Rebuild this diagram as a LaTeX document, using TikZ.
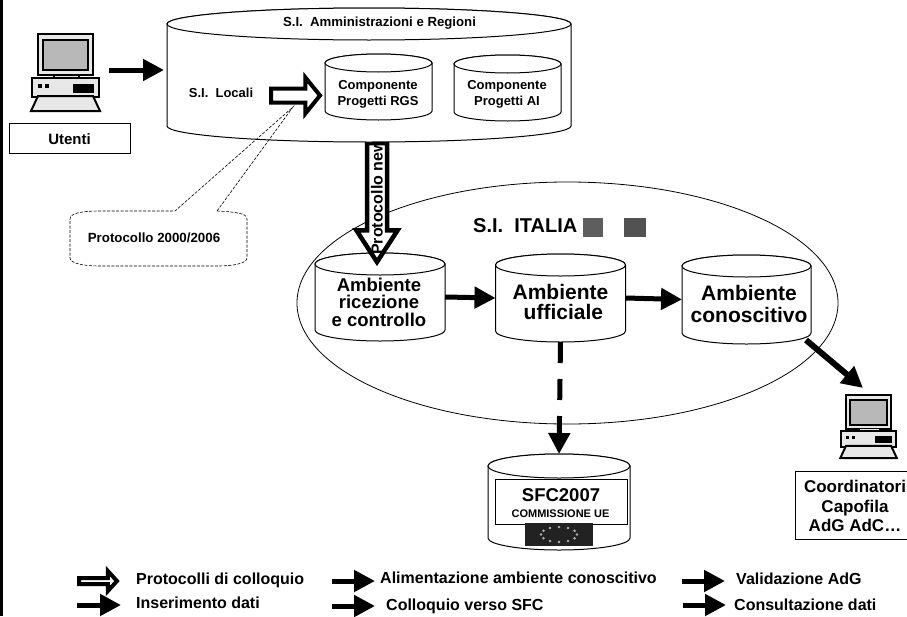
\documentclass[tikz,border=0pt]{standalone}
\usepackage{fontspec}
\setmainfont{Liberation Sans}
\usetikzlibrary{arrows.meta,calc,shapes.geometric,shapes.arrows}
\definecolor{pcbody}{HTML}{E8E8E8}
\definecolor{pcscreen}{HTML}{B8B8B8}
\definecolor{flagdark}{HTML}{222222}
\tikzset{
  tag/.style 2 args={font=\fontsize{#1}{#2}\selectfont\bfseries,inner sep=0pt,align=center},
  cylbody/.style={draw,fill=white,line width=1pt},
  solidarrow/.style={line width=5pt,-{Triangle[length=21pt,width=21pt]}},
  hollowarrow/.style n args={5}{single arrow,draw,fill=white,line width=#3,inner xsep=0pt,inner ysep=#2/2,outer sep=0pt,
    minimum height=#1,single arrow head extend=#4,single arrow tip angle=#5},
  textbox/.style={draw,fill=white,line width=.8pt,inner sep=0pt,outer sep=0pt},
  pics/computer/.style={code={
    \draw[line width=2pt,fill=pcbody] (0,0) rectangle (55,41);
    \draw[line width=2pt,fill=pcscreen] (5,6) rectangle (50,36);
    \draw[line width=1.5pt,fill=pcbody] (16,41) rectangle (41,44);
    \draw[line width=2pt,fill=pcbody] (-6,44) rectangle (61,63);
    \fill (35,50) rectangle (56,59);
    \fill (0,50) rectangle (4,54);
    \fill (7,50) rectangle (11,54);
    \draw[line width=2pt,fill=pcbody,line join=miter] (0,62) -- (-7,77) -- (62,77) -- (55,62) -- cycle;
  }}
}
% name, centre x, centre y, width, height, end radius
\newcommand{\dbcyl}[6]{
  \node[minimum width=#4,minimum height=#5,inner sep=0pt,outer sep=0pt] (#1) at (#2,#3) {};
  \draw[cylbody] ($(#1.north west)+(0,#6)$) -- ($(#1.south west)-(0,#6)$)
    arc[start angle=180,end angle=0,x radius=#4/2,y radius=#6]
    -- ($(#1.north east)+(0,#6)$)
    arc[start angle=0,end angle=-180,x radius=#4/2,y radius=#6] -- cycle;
  \draw[cylbody] ($(#1.north)+(0,#6)$) ellipse[x radius=#4/2,y radius=#6];
}
\begin{document}
\begin{tikzpicture}[x=1pt,y=-1pt]
\useasboundingbox (0,0) rectangle (907,616);
\fill (0,0) rectangle (3,616);
\node[draw,ellipse,line width=.8pt,minimum width=541,minimum height=242,inner sep=0pt,outer sep=0pt] (italia) at (567.5,303) {};
\dbcyl{ricezione}{380}{297}{130}{88}{11}
\node[tag={18.5}{17.5}] (ricezionelabel) at (379,302) {Ambiente\\ricezione\\e controllo};
\node[hollowarrow={119}{15.5}{4.5pt}{10.5}{66},rotate=-90,anchor=tip] (protonew) at (377,262) {};
\node[tag={16}{18},rotate=90,anchor=west] (protolabel) at (377,255) {Protocollo new};
\dbcyl{si}{369}{75}{404}{134}{16}
\node[tag={13.2}{15}] (silabel) at (379.5,23) {S.I.~~Amministrazioni e Regioni};
\node[tag={13}{15}] (locali) at (221,93) {S.I.~~Locali};
\dbcyl{rgs}{378.5}{87}{107}{66}{9}
\node[tag={13}{16}] (rgslabel) at (378,94) {Componente\\Progetti RGS};
\dbcyl{ai}{507.5}{88}{107}{66}{9}
\node[tag={13}{16}] (ailabel) at (507,94) {Componente\\Progetti AI};
\node[hollowarrow={49}{10}{4pt}{11}{102},anchor=tip] (protoin) at (320,95.5) {};
\dbcyl{ufficiale}{560.5}{298}{130}{88}{11}
\node[tag={21}{20.5}] (ufficialelabel) at (560.5,302) {Ambiente\\~ufficiale};
\dbcyl{conoscitivo}{746.5}{299.5}{129}{89}{11}
\node[tag={21}{21.5}] (conolabel) at (749,304) {Ambiente\\conoscitivo};
\node[tag={20}{24},anchor=west] (italialabel) at (473,226) {S.I.~~ITALIA};
\fill[black!63] (583,218) rectangle (603,237);
\fill[black!68] (624,218) rectangle (646,237);
\dbcyl{sfc}{559}{502}{142}{96}{12}
\node[textbox,minimum width=132,minimum height=45] (sfcbox) at (561,501.5) {};
\node[tag={18.5}{20}] (sfclabel) at (561,495) {SFC2007};
\node[tag={11}{12}] (commissione) at (560.5,514) {COMMISSIONE UE};
\node[fill=flagdark,minimum width=68,minimum height=23,inner sep=0pt] (flag) at (559,534.5) {};
\foreach \a in {0,30,...,330} {
  \fill[black!30] ($(flag.center)+(\a:18 and 7.5)$) circle (1.4);
}
\pic at (38,34) {computer};
\pic[scale=.82] at (846,395) {computer};
\node[textbox,minimum width=121,minimum height=30] (utenti) at (69.5,138) {};
\node[tag={15}{17}] (utentilabel) at (69.5,139) {Utenti};
\node[textbox,minimum width=112,minimum height=68] (coordbox) at (851,505) {};
\node[tag={17}{19.3}] (coordlabel) at (855,506) {Coordinatori\\Capofila\\AdG AdC…};
\coordinate (pcout) at (109,70);
\coordinate (siin) at (164,70);
\coordinate (conoout) at (806,340);
\coordinate (pctwo) at (863,388);
\coordinate (calloutip) at (293,107);
\draw[solidarrow] (pcout) -- (siin);
\draw[solidarrow] (ricezione.east) -- (ufficiale.west);
\draw[solidarrow] (ufficiale.east) -- (conoscitivo.west);
\draw[solidarrow,line width=6pt] (conoout) -- (pctwo);
\draw[solidarrow,dash pattern=on 21pt off 16pt] (ufficiale.south) -- (sfc.north);
\draw[line width=.6pt,dash pattern=on 3pt off 1.5pt] (217,211) .. controls (235,212) and (247,213) .. (247,219) -- (247,258) .. controls (247,263) and (235,266) .. (217,266) -- (100,266) .. controls (82,266) and (70,263) .. (70,258) -- (70,219) .. controls (70,213) and (82,211) .. (100,211) -- (175,211) -- (calloutip) -- cycle;
\node[tag={13.3}{15}] (callout) at (154,238) {Protocollo 2000/2006};
\node[hollowarrow={38}{2}{4pt}{7}{95},anchor=tip] (keyhollow) at (117,581) {};
\coordinate (keyaa) at (77,605);
\coordinate (keyab) at (121,605);
\coordinate (keyba) at (332,581);
\coordinate (keybb) at (375,581);
\coordinate (keyca) at (332,606);
\coordinate (keycb) at (375,606);
\coordinate (keyda) at (682,581);
\coordinate (keydb) at (725,581);
\coordinate (keyea) at (683,605);
\coordinate (keyeb) at (726,605);
\foreach \a/\b in {keyaa/keyab,keyba/keybb,keyca/keycb,keyda/keydb,keyea/keyeb} {
  \draw[solidarrow] (\a) -- (\b);
}
\node[tag={16}{18},anchor=west] (keyone) at (136,580) {Protocolli di colloquio};
\node[tag={16}{18},anchor=west] (keytwo) at (136,603) {Inserimento dati};
\node[tag={16}{18},anchor=west] (keythree) at (380,578) {Alimentazione ambiente conoscitivo};
\node[tag={16}{18},anchor=west] (keyfour) at (386,606) {Colloquio verso SFC};
\node[tag={16}{18},anchor=west] (keyfive) at (736,579) {Validazione AdG};
\node[tag={16}{18},anchor=west] (keysix) at (734,605) {Consultazione dati};
\end{tikzpicture}
\end{document}
